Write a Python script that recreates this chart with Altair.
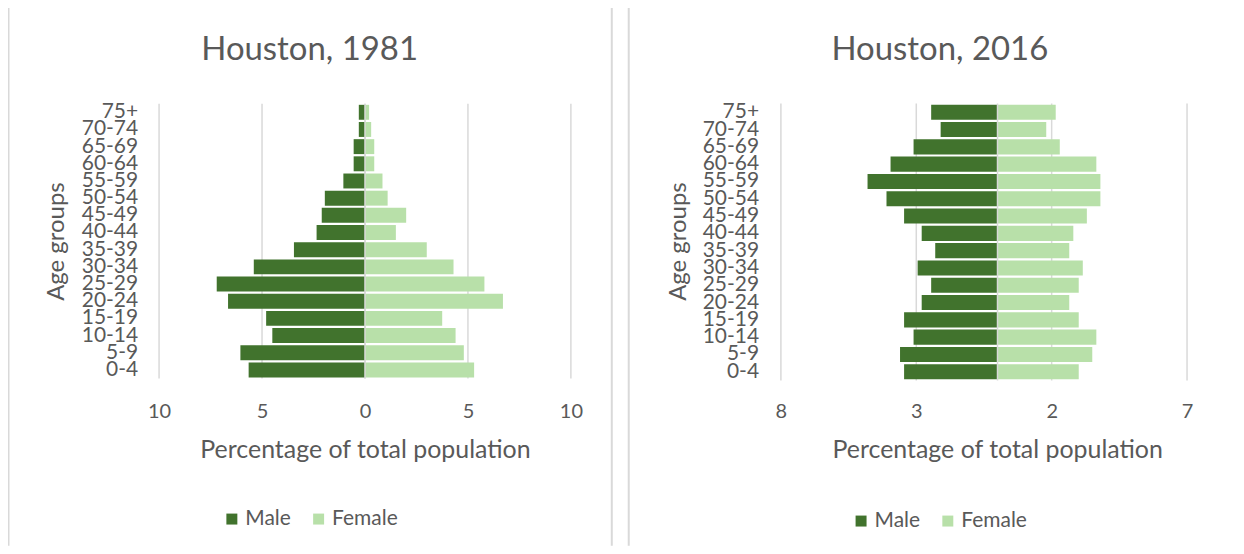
import altair as alt
import pandas as pd

# ---- data ----
ages = ["75+", "70-74", "65-69", "60-64", "55-59", "50-54", "45-49", "40-44",
        "35-39", "30-34", "25-29", "20-24", "15-19", "10-14", "5-9", "0-4"]
male_1981 = [0.3, 0.3, 0.55, 0.55, 1.05, 1.95, 2.1, 2.35, 3.45, 5.4, 7.2, 6.65, 4.8, 4.5, 6.05, 5.65]
female_1981 = [0.2, 0.3, 0.45, 0.45, 0.85, 1.1, 2.0, 1.5, 3.0, 4.3, 5.8, 6.7, 3.75, 4.4, 4.8, 5.3]
male_2016 = [2.45, 2.1, 3.1, 3.95, 4.8, 4.1, 3.45, 2.8, 2.3, 2.95, 2.45, 2.8, 3.45, 3.1, 3.6, 3.45]
female_2016 = [2.15, 1.8, 2.3, 3.65, 3.8, 3.8, 3.3, 2.8, 2.65, 3.15, 3.0, 2.65, 3.0, 3.65, 3.5, 3.0]
sexes = ["Male", "Female"]
colors = ["#41732D", "#B8E0A9"]
titles = ["Houston, 1981", "Houston, 2016"]
x_ticks_1981 = [-10, -5, 0, 5, 10]
x_ticks_2016 = [-8, -3, 2, 7]
x_domain_1981 = [-10, 10]
x_domain_2016 = [-8, 7]
x_title = "Percentage of total population"
y_title = "Age groups"

FONT = "Lato"
TXT = "#595959"
GRID = "#D9D9D9"
H = 543


def panel(title, male, female, domain, ticks, W, xr, yr, pad_inner, yaxis_off,
          ytitle_x, xtitle_x, title_x, legend_x, legend_y, right_border):
    df = pd.DataFrame({
        "age": ages * 2,
        "sex": ["Male"] * len(ages) + ["Female"] * len(ages),
        "value": [-m for m in male] + list(female),
    })
    xs = alt.Scale(domain=domain, range=xr, nice=False, zero=False)
    ys = alt.Scale(domain=ages, range=yr, paddingInner=pad_inner, paddingOuter=pad_inner / 2)
    xaxis = alt.Axis(
        values=ticks, labelExpr="abs(datum.value)", orient="bottom",
        offset=395.5 - H, ticks=False, domain=False, grid=False,
        labelPadding=3, labelFontSize=20, labelFont=FONT, labelColor=TXT,
        labelFlush=False, title=x_title, titleFontSize=25, titleFont=FONT,
        titleColor=TXT, titleFontWeight="normal", titleX=xtitle_x, titleY=59,
        titleBaseline="alphabetic", titleAlign="center")

    grid = alt.Chart(pd.DataFrame({"value": ticks})).mark_rule(
        color=GRID, strokeWidth=1.5
    ).encode(
        x=alt.X("value:Q", scale=xs, axis=xaxis),
        y=alt.value(yr[0]), y2=alt.value(yr[1]),
    )

    bars = alt.Chart(df).mark_bar().encode(
        x=alt.X("value:Q", scale=xs, axis=xaxis),
        y=alt.Y("age:N", scale=ys, sort=ages, axis=alt.Axis(
            orient="left", offset=yaxis_off, ticks=False, domain=False, grid=False,
            labelPadding=4, labelFontSize=21, labelFont=FONT, labelColor=TXT,
            title=y_title, titleFontSize=24, titleFont=FONT, titleColor=TXT,
            titleFontWeight="normal", titleAngle=270, titleX=ytitle_x, titleY=237.5,
            titleBaseline="middle", titleAlign="center")),
        color=alt.Color("sex:N", scale=alt.Scale(domain=sexes, range=colors),
                        legend=alt.Legend(
                            orient="none", legendX=legend_x, legendY=legend_y,
                            direction="horizontal", title=None, symbolType="square",
                            symbolSize=121, symbolStrokeWidth=0, labelFontSize=21,
                            labelFont=FONT, labelColor=TXT, columnPadding=17,
                            labelOffset=3, padding=0)),
    )

    zero = alt.Chart(pd.DataFrame({"value": [0]})).mark_rule(
        color=GRID, strokeWidth=1.5
    ).encode(
        x=alt.X("value:Q", scale=xs, axis=xaxis),
        y=alt.value(yr[0]), y2=alt.value(yr[1]),
    )

    ttl = alt.Chart(pd.DataFrame({"t": [title]})).mark_text(
        font=FONT, fontSize=33, color=TXT, align="center", baseline="alphabetic"
    ).encode(text="t:N", x=alt.value(title_x), y=alt.value(56))

    frame = pd.DataFrame({"k": [0]})
    layers = [
        alt.Chart(frame).mark_rule(color=GRID, strokeWidth=2).encode(
            x=alt.value(0), x2=alt.value(W), y=alt.value(1)),
        alt.Chart(frame).mark_rule(color=GRID, strokeWidth=2).encode(
            x=alt.value(1), y=alt.value(0), y2=alt.value(H)),
    ]
    if right_border:
        layers.append(alt.Chart(frame).mark_rule(color=GRID, strokeWidth=2).encode(
            x=alt.value(W - 1), y=alt.value(0), y2=alt.value(H)))
    layers += [grid, bars, zero, ttl]
    return alt.layer(*layers).properties(width=W, height=H)


p1 = panel(titles[0], male_1981, female_1981, x_domain_1981, x_ticks_1981, 607,
           [152, 565], [99.7, 375.3], 0.13, -134.5, -85, 358.5, 303, 214.5, 505.5, True)
p2 = panel(titles[1], male_2016, female_2016, x_domain_2016, x_ticks_2016, 609,
           [153.6, 560.9], [99.6, 377.2], 0.125, -135.2, -84.7, 370.5, 313, 223.5, 507.5, False)

chart = alt.hconcat(p1, p2, spacing=13).resolve_scale(
    x="independent", y="independent", color="independent"
).resolve_legend(color="independent").properties(
    padding={"top": -5.5, "left": -1.5, "right": 0, "bottom": 0}
).configure_view(stroke=None)

chart.save("out.html", embed_options={"renderer": "svg", "actions": False})
